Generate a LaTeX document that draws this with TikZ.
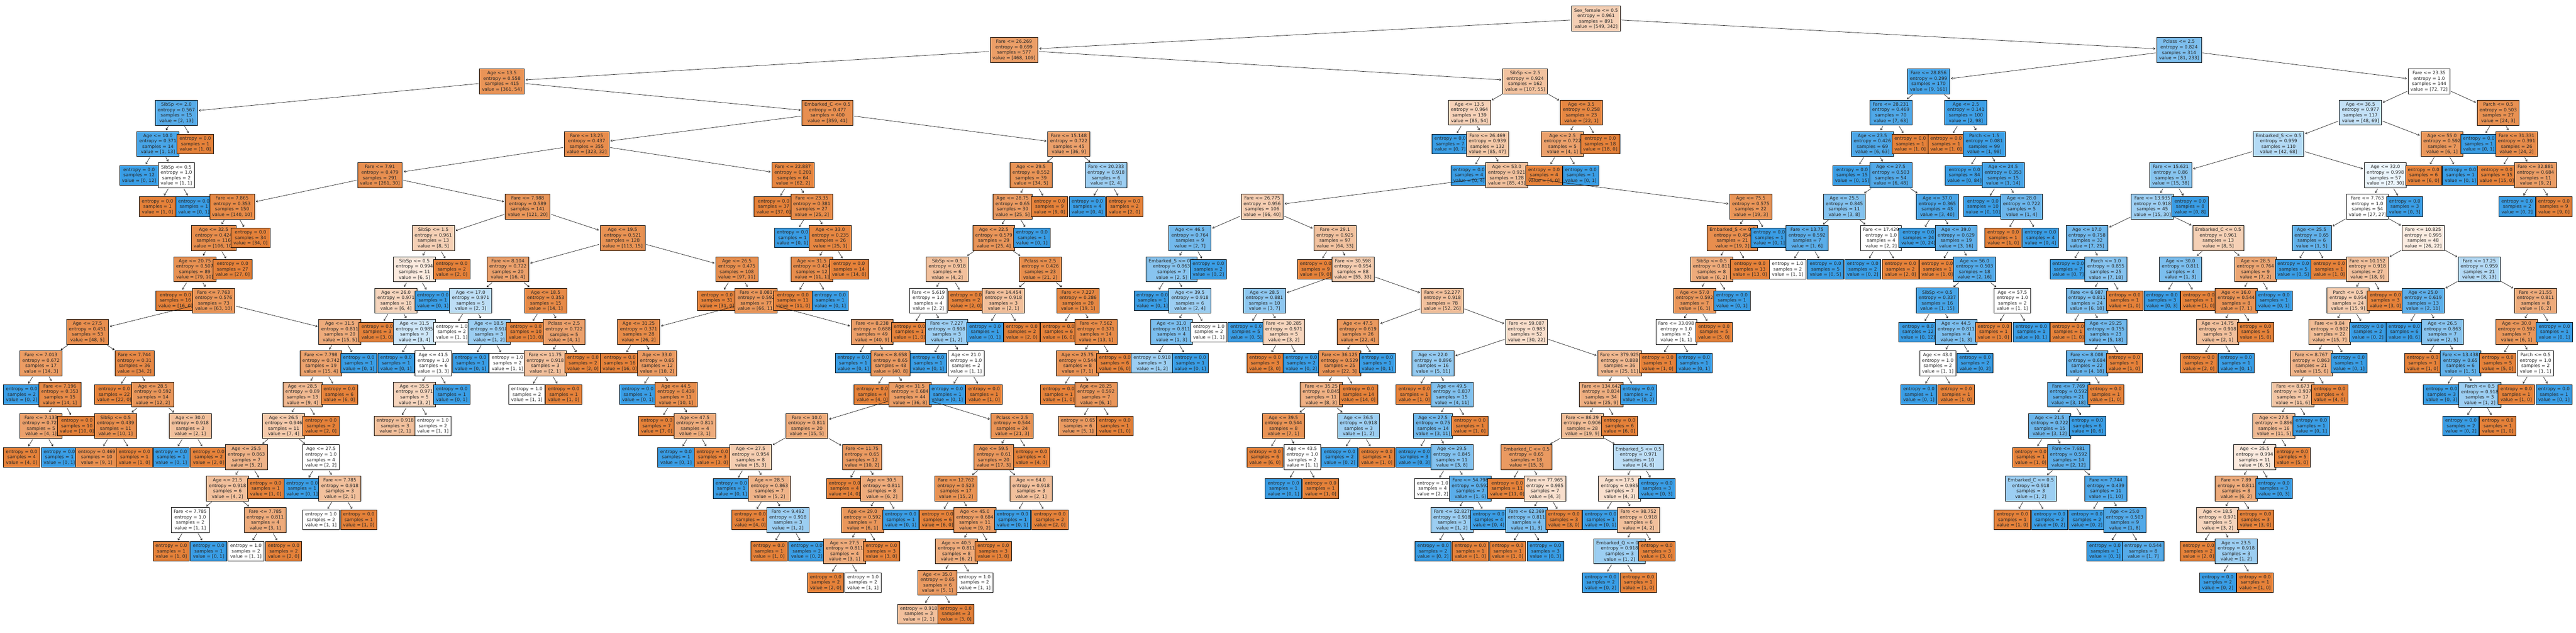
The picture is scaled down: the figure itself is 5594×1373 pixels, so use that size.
\documentclass[tikz,border=0pt]{standalone}
\usepackage{fontspec}
\setmainfont{DejaVu Sans}
\usetikzlibrary{arrows.meta}
\definecolor{cA}{RGB}{229,129,57}
\definecolor{cB}{RGB}{57,157,229}
\begin{document}
\begin{tikzpicture}[x=1pt, y=-1pt, >={Straight Barb[length=3.5pt,width=4.5pt]}, font=\fontsize{9.85}{11.8}\selectfont, line join=round, line cap=round,
  box/.style={draw=black, line width=0.9pt, align=center, inner xsep=5.3pt, inner ysep=5.2pt, text=black!85},
  edge/.style={->, line width=0.8pt, black!90, shorten <=2pt, shorten >=2.5pt}]
\useasboundingbox (0,0) rectangle (5594,1373);
% ten, cha, x, muc, dieu kien, entropy, samples, value
\def\tn#1#2#3#4#5#6#7#8#9{%
  \ifnum#8<#9 \def\hue{cB}\pgfmathsetmacro\pct{100-100*(#8/#9)}%
  \else\def\hue{cA}\pgfmathsetmacro\pct{100-100*(#9/#8)}\fi
  \node[box, fill=\hue!\pct] (#1) at (#3,{40.5+68*#4}) {#5entropy = #6\\samples = #7\\value = [#8, #9]};
  \ifx\relax#2\relax\else\draw[edge] (#2) -- (#1);\fi}
% muc 0-3
\tn{a3466}{}{3466}{0}{Sex\_female <= 0.5\\}{0.961}{891}{549}{342}
\tn{b2202}{a3466}{2202}{1}{Fare <= 26.269\\}{0.699}{577}{468}{109}
\tn{b4732}{a3466}{4732}{1}{Pclass <= 2.5\\}{0.824}{314}{81}{233}
\tn{c1090}{b2202}{1090}{2}{Age <= 13.5\\}{0.558}{415}{361}{54}
\tn{c3312}{b2202}{3312}{2}{SibSp <= 2.5\\}{0.924}{162}{107}{55}
\tn{c4188}{b4732}{4188}{2}{Fare <= 28.856\\}{0.299}{170}{9}{161}
\tn{c5275}{b4732}{5275}{2}{Fare <= 23.35\\}{1.0}{144}{72}{72}
\tn{d383}{c1090}{383}{3}{SibSp <= 2.0\\}{0.567}{15}{2}{13}
\tn{d1797}{c1090}{1797}{3}{Embarked\_C <= 0.5\\}{0.477}{400}{359}{41}
\tn{d3191}{c3312}{3191}{3}{Age <= 13.5\\}{0.964}{139}{85}{54}
\tn{d3434}{c3312}{3434}{3}{Age <= 3.5\\}{0.258}{23}{22}{1}
\tn{d4106}{c4188}{4106}{3}{Fare <= 28.231\\}{0.469}{70}{7}{63}
\tn{d4269}{c4188}{4269}{3}{Age <= 2.5\\}{0.141}{100}{2}{98}
\tn{d5126}{c5275}{5126}{3}{Age <= 36.5\\}{0.977}{117}{48}{69}
\tn{d5425}{c5275}{5425}{3}{Parch <= 0.5\\}{0.503}{27}{24}{3}
% muc 4
\tn{e343}{d383}{343}{4}{Age <= 10.0\\}{0.371}{14}{1}{13}
\tn{e424}{d383}{424}{4}{}{0.0}{1}{1}{0}
\tn{e1274}{d1797}{1274}{4}{Fare <= 13.25\\}{0.437}{355}{323}{32}
\tn{e2321}{d1797}{2321}{4}{Fare <= 15.148\\}{0.722}{45}{36}{9}
\tn{e3149}{d3191}{3149}{4}{}{0.0}{7}{0}{7}
\tn{e3230}{d3191}{3230}{4}{Fare <= 26.469\\}{0.939}{132}{85}{47}
\tn{e3393}{d3434}{3393}{4}{Age <= 2.5\\}{0.722}{5}{4}{1}
\tn{e3475}{d3434}{3475}{4}{}{0.0}{18}{18}{0}
\tn{e4066}{d4106}{4066}{4}{Age <= 23.5\\}{0.426}{69}{6}{63}
\tn{e4148}{d4106}{4148}{4}{}{0.0}{1}{1}{0}
\tn{e4226}{d4269}{4226}{4}{}{0.0}{1}{1}{0}
\tn{e4309}{d4269}{4309}{4}{Parch <= 1.5\\}{0.081}{99}{1}{98}
\tn{e4948}{d5126}{4948}{4}{Embarked\_S <= 0.5\\}{0.959}{110}{42}{68}
\tn{e5303}{d5126}{5303}{4}{Age <= 55.0\\}{0.592}{7}{6}{1}
\tn{e5383}{d5425}{5383}{4}{}{0.0}{1}{0}{1}
\tn{e5465}{d5425}{5465}{4}{Fare <= 31.331\\}{0.391}{26}{24}{2}
% muc 5
\tn{f302}{e343}{302}{5}{}{0.0}{12}{0}{12}
\tn{f383}{e343}{383}{5}{SibSp <= 0.5\\}{1.0}{2}{1}{1}
\tn{f825}{e1274}{825}{5}{Fare <= 7.91\\}{0.479}{291}{261}{30}
\tn{f1722}{e1274}{1722}{5}{Fare <= 22.887\\}{0.201}{64}{62}{2}
\tn{f2239}{e2321}{2239}{5}{Age <= 29.5\\}{0.552}{39}{34}{5}
\tn{f2402}{e2321}{2402}{5}{Fare <= 20.233\\}{0.918}{6}{2}{4}
\tn{f3190}{e3230}{3190}{5}{}{0.0}{4}{0}{4}
\tn{f3272}{e3230}{3272}{5}{Age <= 53.0\\}{0.921}{128}{85}{43}
\tn{f3353}{e3393}{3353}{5}{}{0.0}{4}{4}{0}
\tn{f3433}{e3393}{3433}{5}{}{0.0}{1}{0}{1}
\tn{f4022}{e4066}{4022}{5}{}{0.0}{15}{0}{15}
\tn{f4106}{e4066}{4106}{5}{Age <= 27.5\\}{0.503}{54}{6}{48}
\tn{f4266}{e4309}{4266}{5}{}{0.0}{84}{0}{84}
\tn{f4350}{e4309}{4350}{5}{Age <= 24.5\\}{0.353}{15}{1}{14}
\tn{f4714}{e4948}{4714}{5}{Fare <= 15.621\\}{0.86}{53}{15}{38}
\tn{f5180}{e4948}{5180}{5}{Age <= 32.0\\}{0.998}{57}{27}{30}
\tn{f5263}{e5303}{5263}{5}{}{0.0}{6}{6}{0}
\tn{f5343}{e5303}{5343}{5}{}{0.0}{1}{0}{1}
\tn{f5422}{e5465}{5422}{5}{}{0.0}{15}{15}{0}
\tn{f5506}{e5465}{5506}{5}{Fare <= 32.881\\}{0.684}{11}{9}{2}
% muc 6
\tn{g342}{f383}{342}{6}{}{0.0}{1}{1}{0}
\tn{g421}{f383}{421}{6}{}{0.0}{1}{0}{1}
\tn{g504}{f825}{504}{6}{Fare <= 7.865\\}{0.353}{150}{140}{10}
\tn{g1146}{f825}{1146}{6}{Fare <= 7.988\\}{0.589}{141}{121}{20}
\tn{g1680}{f1722}{1680}{6}{}{0.0}{37}{37}{0}
\tn{g1763}{f1722}{1763}{6}{Fare <= 23.35\\}{0.381}{27}{25}{2}
\tn{g2199}{f2239}{2199}{6}{Age <= 28.75\\}{0.65}{30}{25}{5}
\tn{g2279}{f2239}{2279}{6}{}{0.0}{9}{9}{0}
\tn{g2361}{f2402}{2361}{6}{}{0.0}{4}{0}{4}
\tn{g2442}{f2402}{2442}{6}{}{0.0}{2}{2}{0}
\tn{g2741}{f3272}{2741}{6}{Fare <= 26.775\\}{0.956}{106}{66}{40}
\tn{g3802}{f3272}{3802}{6}{Age <= 75.5\\}{0.575}{22}{19}{3}
\tn{g4005}{f4106}{4005}{6}{Age <= 25.5\\}{0.845}{11}{3}{8}
\tn{g4207}{f4106}{4207}{6}{Age <= 37.0\\}{0.365}{43}{3}{40}
\tn{g4306}{f4350}{4306}{6}{}{0.0}{10}{0}{10}
\tn{g4390}{f4350}{4390}{6}{Age <= 28.0\\}{0.722}{5}{1}{4}
\tn{g4674}{f4714}{4674}{6}{Fare <= 13.935\\}{0.918}{45}{15}{30}
\tn{g4756}{f4714}{4756}{6}{}{0.0}{8}{0}{8}
\tn{g5141}{f5180}{5141}{6}{Fare <= 7.763\\}{1.0}{54}{27}{27}
\tn{g5222}{f5180}{5222}{6}{}{0.0}{3}{0}{3}
\tn{g5466}{f5506}{5466}{6}{}{0.0}{2}{0}{2}
\tn{g5546}{f5506}{5546}{6}{}{0.0}{9}{9}{0}
% muc 7
\tn{h464}{g504}{464}{7}{Age <= 32.5\\}{0.424}{116}{106}{10}
\tn{h544}{g504}{544}{7}{}{0.0}{34}{34}{0}
\tn{h941}{g1146}{941}{7}{SibSp <= 1.5\\}{0.961}{13}{8}{5}
\tn{h1352}{g1146}{1352}{7}{Age <= 19.5\\}{0.521}{128}{113}{15}
\tn{h1721}{g1763}{1721}{7}{}{0.0}{1}{0}{1}
\tn{h1803}{g1763}{1803}{7}{Age <= 33.0\\}{0.235}{26}{25}{1}
\tn{h2158}{g2199}{2158}{7}{Age <= 22.5\\}{0.579}{29}{25}{4}
\tn{h2241}{g2199}{2241}{7}{}{0.0}{1}{0}{1}
\tn{h2584}{g2741}{2584}{7}{Age <= 46.5\\}{0.764}{9}{2}{7}
\tn{h2899}{g2741}{2899}{7}{Fare <= 29.1\\}{0.925}{97}{64}{33}
\tn{h3762}{g3802}{3762}{7}{Embarked\_S <= 0.5\\}{0.454}{21}{19}{2}
\tn{h3842}{g3802}{3842}{7}{}{0.0}{1}{0}{1}
\tn{h3924}{g4005}{3924}{7}{Fare <= 13.75\\}{0.592}{7}{1}{6}
\tn{h4085}{g4005}{4085}{7}{Fare <= 17.429\\}{1.0}{4}{2}{2}
\tn{h4166}{g4207}{4166}{7}{}{0.0}{24}{0}{24}
\tn{h4248}{g4207}{4248}{7}{Age <= 39.0\\}{0.629}{19}{3}{16}
\tn{h4350}{g4390}{4350}{7}{}{0.0}{1}{1}{0}
\tn{h4431}{g4390}{4431}{7}{}{0.0}{4}{0}{4}
\tn{h4532}{g4674}{4532}{7}{Age <= 17.0\\}{0.758}{32}{7}{25}
\tn{h4817}{g4674}{4817}{7}{Embarked\_C <= 0.5\\}{0.961}{13}{8}{5}
\tn{h5020}{g5141}{5020}{7}{Age <= 25.5\\}{0.65}{6}{1}{5}
\tn{h5262}{g5141}{5262}{7}{Fare <= 10.825\\}{0.995}{48}{26}{22}
% muc 8
\tn{i423}{h464}{423}{8}{Age <= 20.75\\}{0.507}{89}{79}{10}
\tn{i505}{h464}{505}{8}{}{0.0}{27}{27}{0}
\tn{i900}{h941}{900}{8}{SibSp <= 0.5\\}{0.994}{11}{6}{5}
\tn{i981}{h941}{981}{8}{}{0.0}{2}{2}{0}
\tn{i1103}{h1352}{1103}{8}{Fare <= 8.104\\}{0.722}{20}{16}{4}
\tn{i1600}{h1352}{1600}{8}{Age <= 26.5\\}{0.475}{108}{97}{11}
\tn{i1763}{h1803}{1763}{8}{Age <= 31.5\\}{0.414}{12}{11}{1}
\tn{i1844}{h1803}{1844}{8}{}{0.0}{14}{14}{0}
\tn{i2057}{h2158}{2057}{8}{SibSp <= 0.5\\}{0.918}{6}{4}{2}
\tn{i2259}{h2158}{2259}{8}{Pclass <= 2.5\\}{0.426}{23}{21}{2}
\tn{i2544}{h2584}{2544}{8}{Embarked\_S <= 0.5\\}{0.863}{7}{2}{5}
\tn{i2624}{h2584}{2624}{8}{}{0.0}{2}{0}{2}
\tn{i2857}{h2899}{2857}{8}{}{0.0}{9}{9}{0}
\tn{i2938}{h2899}{2938}{8}{Fare <= 30.598\\}{0.954}{88}{55}{33}
\tn{i3717}{h3762}{3717}{8}{SibSp <= 0.5\\}{0.811}{8}{6}{2}
\tn{i3800}{h3762}{3800}{8}{}{0.0}{13}{13}{0}
\tn{i3882}{h3924}{3882}{8}{}{1.0}{2}{1}{1}
\tn{i3964}{h3924}{3964}{8}{}{0.0}{5}{0}{5}
\tn{i4045}{h4085}{4045}{8}{}{0.0}{2}{0}{2}
\tn{i4127}{h4085}{4127}{8}{}{0.0}{2}{2}{0}
\tn{i4207}{h4248}{4207}{8}{}{0.0}{1}{1}{0}
\tn{i4288}{h4248}{4288}{8}{Age <= 56.0\\}{0.503}{18}{2}{16}
\tn{i4491}{h4532}{4491}{8}{}{0.0}{7}{0}{7}
\tn{i4573}{h4532}{4573}{8}{Parch <= 1.0\\}{0.855}{25}{7}{18}
\tn{i4735}{h4817}{4735}{8}{Age <= 30.0\\}{0.811}{4}{1}{3}
\tn{i4898}{h4817}{4898}{8}{Age <= 28.5\\}{0.764}{9}{7}{2}
\tn{i4980}{h5020}{4980}{8}{}{0.0}{5}{0}{5}
\tn{i5058}{h5020}{5058}{8}{}{0.0}{1}{1}{0}
\tn{i5141}{h5262}{5141}{8}{Fare <= 10.152\\}{0.918}{27}{18}{9}
\tn{i5384}{h5262}{5384}{8}{Fare <= 17.25\\}{0.959}{21}{8}{13}
% muc 9
\tn{j381}{i423}{381}{9}{}{0.0}{16}{16}{0}
\tn{j464}{i423}{464}{9}{Fare <= 7.763\\}{0.576}{73}{63}{10}
\tn{j860}{i900}{860}{9}{Age <= 26.0\\}{0.971}{10}{6}{4}
\tn{j940}{i900}{940}{9}{}{0.0}{1}{0}{1}
\tn{j1022}{i1103}{1022}{9}{Age <= 17.0\\}{0.971}{5}{2}{3}
\tn{j1185}{i1103}{1185}{9}{Age <= 18.5\\}{0.353}{15}{14}{1}
\tn{j1557}{i1600}{1557}{9}{}{0.0}{31}{31}{0}
\tn{j1642}{i1600}{1642}{9}{Fare <= 8.081\\}{0.592}{77}{66}{11}
\tn{j1722}{i1763}{1722}{9}{}{0.0}{11}{11}{0}
\tn{j1803}{i1763}{1803}{9}{}{0.0}{1}{0}{1}
\tn{j2016}{i2057}{2016}{9}{Fare <= 5.619\\}{1.0}{4}{2}{2}
\tn{j2098}{i2057}{2098}{9}{}{0.0}{2}{2}{0}
\tn{j2179}{i2259}{2179}{9}{Fare <= 14.454\\}{0.918}{3}{2}{1}
\tn{j2341}{i2259}{2341}{9}{Fare <= 7.227\\}{0.286}{20}{19}{1}
\tn{j2502}{i2544}{2502}{9}{}{0.0}{1}{0}{1}
\tn{j2584}{i2544}{2584}{9}{Age <= 39.5\\}{0.918}{6}{2}{4}
\tn{j2746}{i2938}{2746}{9}{Age <= 28.5\\}{0.881}{10}{3}{7}
\tn{j3132}{i2938}{3132}{9}{Fare <= 52.277\\}{0.918}{78}{52}{26}
\tn{j3680}{i3717}{3680}{9}{Age <= 57.0\\}{0.592}{7}{6}{1}
\tn{j3761}{i3717}{3761}{9}{}{0.0}{1}{0}{1}
\tn{j4207}{i4288}{4207}{9}{SibSp <= 0.5\\}{0.337}{16}{1}{15}
\tn{j4370}{i4288}{4370}{9}{Age <= 57.5\\}{1.0}{2}{1}{1}
\tn{j4532}{i4573}{4532}{9}{Fare <= 6.987\\}{0.811}{24}{6}{18}
\tn{j4614}{i4573}{4614}{9}{}{0.0}{1}{1}{0}
\tn{j4695}{i4735}{4695}{9}{}{0.0}{3}{0}{3}
\tn{j4775}{i4735}{4775}{9}{}{0.0}{1}{1}{0}
\tn{j4856}{i4898}{4856}{9}{Age <= 16.0\\}{0.544}{8}{7}{1}
\tn{j4938}{i4898}{4938}{9}{}{0.0}{1}{0}{1}
\tn{j5099}{i5141}{5099}{9}{Parch <= 0.5\\}{0.954}{24}{15}{9}
\tn{j5180}{i5141}{5180}{9}{}{0.0}{3}{3}{0}
\tn{j5262}{i5384}{5262}{9}{Age <= 25.0\\}{0.619}{13}{2}{11}
\tn{j5506}{i5384}{5506}{9}{Fare <= 21.55\\}{0.811}{8}{6}{2}
% muc 10
\tn{k190}{j464}{190}{10}{Age <= 27.5\\}{0.451}{53}{48}{5}
\tn{k738}{j464}{738}{10}{Age <= 31.5\\}{0.811}{20}{15}{5}
\tn{k819}{j860}{819}{10}{}{0.0}{3}{3}{0}
\tn{k900}{j860}{900}{10}{Age <= 31.5\\}{0.985}{7}{3}{4}
\tn{k981}{j1022}{981}{10}{}{1.0}{2}{1}{1}
\tn{k1062}{j1022}{1062}{10}{Age <= 18.5\\}{0.918}{3}{1}{2}
\tn{k1142}{j1185}{1142}{10}{}{0.0}{10}{10}{0}
\tn{k1225}{j1185}{1225}{10}{Pclass <= 2.5\\}{0.722}{5}{4}{1}
\tn{k1387}{j1642}{1387}{10}{Age <= 31.25\\}{0.371}{28}{26}{2}
\tn{k1894}{j1642}{1894}{10}{Fare <= 8.238\\}{0.688}{49}{40}{9}
\tn{k1975}{j2016}{1975}{10}{}{0.0}{1}{1}{0}
\tn{k2056}{j2016}{2056}{10}{Fare <= 7.227\\}{0.918}{3}{1}{2}
\tn{k2139}{j2179}{2139}{10}{}{0.0}{1}{0}{1}
\tn{k2219}{j2179}{2219}{10}{}{0.0}{2}{2}{0}
\tn{k2299}{j2341}{2299}{10}{}{0.0}{6}{6}{0}
\tn{k2380}{j2341}{2380}{10}{Fare <= 7.562\\}{0.371}{14}{13}{1}
\tn{k2544}{j2584}{2544}{10}{Age <= 31.0\\}{0.811}{4}{1}{3}
\tn{k2625}{j2584}{2625}{10}{}{1.0}{2}{1}{1}
\tn{k2706}{j2746}{2706}{10}{}{0.0}{5}{0}{5}
\tn{k2788}{j2746}{2788}{10}{Fare <= 30.285\\}{0.971}{5}{3}{2}
\tn{k2949}{j3132}{2949}{10}{Age <= 47.5\\}{0.619}{26}{22}{4}
\tn{k3315}{j3132}{3315}{10}{Fare <= 59.087\\}{0.983}{52}{30}{22}
\tn{k3640}{j3680}{3640}{10}{Fare <= 33.098\\}{1.0}{2}{1}{1}
\tn{k3722}{j3680}{3722}{10}{}{0.0}{5}{5}{0}
\tn{k4165}{j4207}{4165}{10}{}{0.0}{12}{0}{12}
\tn{k4248}{j4207}{4248}{10}{Age <= 44.5\\}{0.811}{4}{1}{3}
\tn{k4329}{j4370}{4329}{10}{}{0.0}{1}{1}{0}
\tn{k4411}{j4370}{4411}{10}{}{0.0}{1}{0}{1}
\tn{k4491}{j4532}{4491}{10}{}{0.0}{1}{1}{0}
\tn{k4573}{j4532}{4573}{10}{Age <= 29.25\\}{0.755}{23}{5}{18}
\tn{k4816}{j4856}{4816}{10}{Age <= 14.75\\}{0.918}{3}{2}{1}
\tn{k4898}{j4856}{4898}{10}{}{0.0}{5}{5}{0}
\tn{k5059}{j5099}{5059}{10}{Fare <= 9.84\\}{0.902}{22}{15}{7}
\tn{k5142}{j5099}{5142}{10}{}{0.0}{2}{0}{2}
\tn{k5221}{j5262}{5221}{10}{}{0.0}{6}{0}{6}
\tn{k5304}{j5262}{5304}{10}{Age <= 26.5\\}{0.863}{7}{2}{5}
\tn{k5465}{j5506}{5465}{10}{Age <= 30.0\\}{0.592}{7}{6}{1}
\tn{k5547}{j5506}{5547}{10}{}{0.0}{1}{0}{1}
% muc 11
\tn{l89}{k190}{89}{11}{Fare <= 7.013\\}{0.672}{17}{14}{3}
\tn{l292}{k190}{292}{11}{Fare <= 7.744\\}{0.31}{36}{34}{2}
\tn{l697}{k738}{697}{11}{Fare <= 7.798\\}{0.742}{19}{15}{4}
\tn{l779}{k738}{779}{11}{}{0.0}{1}{0}{1}
\tn{l860}{k900}{860}{11}{}{0.0}{1}{0}{1}
\tn{l941}{k900}{941}{11}{Age <= 41.5\\}{1.0}{6}{3}{3}
\tn{l1022}{k1062}{1022}{11}{}{0.0}{1}{0}{1}
\tn{l1102}{k1062}{1102}{11}{}{1.0}{2}{1}{1}
\tn{l1184}{k1225}{1184}{11}{Fare <= 11.75\\}{0.918}{3}{2}{1}
\tn{l1266}{k1225}{1266}{11}{}{0.0}{2}{2}{0}
\tn{l1346}{k1387}{1346}{11}{}{0.0}{16}{16}{0}
\tn{l1427}{k1387}{1427}{11}{Age <= 33.0\\}{0.65}{12}{10}{2}
\tn{l1853}{k1894}{1853}{11}{}{0.0}{1}{0}{1}
\tn{l1934}{k1894}{1934}{11}{Fare <= 8.658\\}{0.65}{48}{40}{8}
\tn{l2016}{k2056}{2016}{11}{}{0.0}{1}{0}{1}
\tn{l2098}{k2056}{2098}{11}{Age <= 21.0\\}{1.0}{2}{1}{1}
\tn{l2340}{k2380}{2340}{11}{Age <= 25.75\\}{0.544}{8}{7}{1}
\tn{l2421}{k2380}{2421}{11}{}{0.0}{6}{6}{0}
\tn{l2502}{k2544}{2502}{11}{}{0.918}{3}{1}{2}
\tn{l2585}{k2544}{2585}{11}{}{0.0}{1}{0}{1}
\tn{l2747}{k2788}{2747}{11}{}{0.0}{3}{3}{0}
\tn{l2826}{k2788}{2826}{11}{}{0.0}{2}{0}{2}
\tn{l2909}{k2949}{2909}{11}{Fare <= 36.125\\}{0.529}{25}{22}{3}
\tn{l2991}{k2949}{2991}{11}{}{0.0}{1}{0}{1}
\tn{l3112}{k3315}{3112}{11}{Age <= 22.0\\}{0.896}{16}{5}{11}
\tn{l3517}{k3315}{3517}{11}{Fare <= 379.925\\}{0.888}{36}{25}{11}
\tn{l3600}{k3640}{3600}{11}{}{0.0}{1}{1}{0}
\tn{l3679}{k3640}{3679}{11}{}{0.0}{1}{0}{1}
\tn{l4208}{k4248}{4208}{11}{Age <= 43.0\\}{1.0}{2}{1}{1}
\tn{l4289}{k4248}{4289}{11}{}{0.0}{2}{0}{2}
\tn{l4532}{k4573}{4532}{11}{Fare <= 8.008\\}{0.684}{22}{4}{18}
\tn{l4613}{k4573}{4613}{11}{}{0.0}{1}{1}{0}
\tn{l4775}{k4816}{4775}{11}{}{0.0}{2}{2}{0}
\tn{l4856}{k4816}{4856}{11}{}{0.0}{1}{0}{1}
\tn{l5019}{k5059}{5019}{11}{Fare <= 8.767\\}{0.863}{21}{15}{6}
\tn{l5101}{k5059}{5101}{11}{}{0.0}{1}{0}{1}
\tn{l5261}{k5304}{5261}{11}{}{0.0}{1}{1}{0}
\tn{l5343}{k5304}{5343}{11}{Fare <= 13.438\\}{0.65}{6}{1}{5}
\tn{l5424}{k5465}{5424}{11}{}{0.0}{5}{5}{0}
\tn{l5506}{k5465}{5506}{11}{Parch <= 0.5\\}{1.0}{2}{1}{1}
% muc 12
\tn{m47}{l89}{47}{12}{}{0.0}{2}{0}{2}
\tn{m130}{l89}{130}{12}{Fare <= 7.196\\}{0.353}{15}{14}{1}
\tn{m248}{l292}{248}{12}{}{0.0}{22}{22}{0}
\tn{m332}{l292}{332}{12}{Age <= 28.5\\}{0.592}{14}{12}{2}
\tn{m657}{l697}{657}{12}{Age <= 28.5\\}{0.89}{13}{9}{4}
\tn{m737}{l697}{737}{12}{}{0.0}{6}{6}{0}
\tn{m900}{l941}{900}{12}{Age <= 35.5\\}{0.971}{5}{3}{2}
\tn{m981}{l941}{981}{12}{}{0.0}{1}{0}{1}
\tn{m1144}{l1184}{1144}{12}{}{1.0}{2}{1}{1}
\tn{m1224}{l1184}{1224}{12}{}{0.0}{1}{1}{0}
\tn{m1385}{l1427}{1385}{12}{}{0.0}{1}{0}{1}
\tn{m1468}{l1427}{1468}{12}{Age <= 44.5\\}{0.439}{11}{10}{1}
\tn{m1894}{l1934}{1894}{12}{}{0.0}{4}{4}{0}
\tn{m1976}{l1934}{1976}{12}{Age <= 31.5\\}{0.684}{44}{36}{8}
\tn{m2057}{l2098}{2057}{12}{}{0.0}{1}{0}{1}
\tn{m2137}{l2098}{2137}{12}{}{0.0}{1}{1}{0}
\tn{m2299}{l2340}{2299}{12}{}{0.0}{1}{1}{0}
\tn{m2380}{l2340}{2380}{12}{Age <= 28.25\\}{0.592}{7}{6}{1}
\tn{m2869}{l2909}{2869}{12}{Fare <= 35.25\\}{0.845}{11}{8}{3}
\tn{m2950}{l2909}{2950}{12}{}{0.0}{14}{14}{0}
\tn{m3071}{l3112}{3071}{12}{}{0.0}{1}{1}{0}
\tn{m3153}{l3112}{3153}{12}{Age <= 49.5\\}{0.837}{15}{4}{11}
\tn{m3477}{l3517}{3477}{12}{Fare <= 134.642\\}{0.834}{34}{25}{9}
\tn{m3558}{l3517}{3558}{12}{}{0.0}{2}{0}{2}
\tn{m4167}{l4208}{4167}{12}{}{0.0}{1}{0}{1}
\tn{m4248}{l4208}{4248}{12}{}{0.0}{1}{1}{0}
\tn{m4492}{l4532}{4492}{12}{Fare <= 7.769\\}{0.592}{21}{3}{18}
\tn{m4573}{l4532}{4573}{12}{}{0.0}{1}{1}{0}
\tn{m4979}{l5019}{4979}{12}{Fare <= 8.673\\}{0.937}{17}{11}{6}
\tn{m5059}{l5019}{5059}{12}{}{0.0}{4}{4}{0}
\tn{m5302}{l5343}{5302}{12}{}{0.0}{3}{0}{3}
\tn{m5385}{l5343}{5385}{12}{Parch <= 0.5\\}{0.918}{3}{1}{2}
\tn{m5464}{l5506}{5464}{12}{}{0.0}{1}{1}{0}
\tn{m5546}{l5506}{5546}{12}{}{0.0}{1}{0}{1}
% muc 13
\tn{n89}{m130}{89}{13}{Fare <= 7.133\\}{0.722}{5}{4}{1}
\tn{n167}{m130}{167}{13}{}{0.0}{10}{10}{0}
\tn{n251}{m332}{251}{13}{SibSp <= 0.5\\}{0.439}{11}{10}{1}
\tn{n413}{m332}{413}{13}{Age <= 30.0\\}{0.918}{3}{2}{1}
\tn{n616}{m657}{616}{13}{Age <= 26.5\\}{0.946}{11}{7}{4}
\tn{n697}{m657}{697}{13}{}{0.0}{2}{2}{0}
\tn{n858}{m900}{858}{13}{}{0.918}{3}{2}{1}
\tn{n940}{m900}{940}{13}{}{1.0}{2}{1}{1}
\tn{n1426}{m1468}{1426}{13}{}{0.0}{7}{7}{0}
\tn{n1509}{m1468}{1509}{13}{Age <= 47.5\\}{0.811}{4}{3}{1}
\tn{n1752}{m1976}{1752}{13}{Fare <= 10.0\\}{0.811}{20}{15}{5}
\tn{n2198}{m1976}{2198}{13}{Pclass <= 2.5\\}{0.544}{24}{21}{3}
\tn{n2341}{m2380}{2341}{13}{}{0.65}{6}{5}{1}
\tn{n2421}{m2380}{2421}{13}{}{0.0}{1}{1}{0}
\tn{n2787}{m2869}{2787}{13}{Age <= 39.5\\}{0.544}{8}{7}{1}
\tn{n2950}{m2869}{2950}{13}{Age <= 36.5\\}{0.918}{3}{1}{2}
\tn{n3112}{m3153}{3112}{13}{Age <= 27.5\\}{0.75}{14}{3}{11}
\tn{n3192}{m3153}{3192}{13}{}{0.0}{1}{1}{0}
\tn{n3436}{m3477}{3436}{13}{Fare <= 86.29\\}{0.906}{28}{19}{9}
\tn{n3517}{m3477}{3517}{13}{}{0.0}{6}{6}{0}
\tn{n4451}{m4492}{4451}{13}{Age <= 21.5\\}{0.722}{15}{3}{12}
\tn{n4533}{m4492}{4533}{13}{}{0.0}{6}{0}{6}
\tn{n4938}{m4979}{4938}{13}{Age <= 27.5\\}{0.896}{16}{11}{5}
\tn{n5019}{m4979}{5019}{13}{}{0.0}{1}{0}{1}
\tn{n5344}{m5385}{5344}{13}{}{0.0}{2}{0}{2}
\tn{n5424}{m5385}{5424}{13}{}{0.0}{1}{1}{0}
% muc 14
\tn{o47}{n89}{47}{14}{}{0.0}{4}{4}{0}
\tn{o129}{n89}{129}{14}{}{0.0}{1}{0}{1}
\tn{o210}{n251}{210}{14}{}{0.469}{10}{9}{1}
\tn{o292}{n251}{292}{14}{}{0.0}{1}{1}{0}
\tn{o372}{n413}{372}{14}{}{0.0}{1}{0}{1}
\tn{o453}{n413}{453}{14}{}{0.0}{2}{2}{0}
\tn{o535}{n616}{535}{14}{Age <= 25.5\\}{0.863}{7}{5}{2}
\tn{o697}{n616}{697}{14}{Age <= 27.5\\}{1.0}{4}{2}{2}
\tn{o1468}{n1509}{1468}{14}{}{0.0}{1}{0}{1}
\tn{o1547}{n1509}{1547}{14}{}{0.0}{3}{3}{0}
\tn{o1630}{n1752}{1630}{14}{Age <= 27.5\\}{0.954}{8}{5}{3}
\tn{o1872}{n1752}{1872}{14}{Fare <= 11.75\\}{0.65}{12}{10}{2}
\tn{o2158}{n2198}{2158}{14}{Age <= 59.5\\}{0.61}{20}{17}{3}
\tn{o2240}{n2198}{2240}{14}{}{0.0}{4}{4}{0}
\tn{o2747}{n2787}{2747}{14}{}{0.0}{6}{6}{0}
\tn{o2828}{n2787}{2828}{14}{Age <= 43.5\\}{1.0}{2}{1}{1}
\tn{o2909}{n2950}{2909}{14}{}{0.0}{2}{0}{2}
\tn{o2990}{n2950}{2990}{14}{}{0.0}{1}{1}{0}
\tn{o3071}{n3112}{3071}{14}{}{0.0}{3}{0}{3}
\tn{o3153}{n3112}{3153}{14}{Age <= 29.5\\}{0.845}{11}{3}{8}
\tn{o3315}{n3436}{3315}{14}{Embarked\_C <= 0.5\\}{0.65}{18}{15}{3}
\tn{o3558}{n3436}{3558}{14}{Embarked\_S <= 0.5\\}{0.971}{10}{4}{6}
\tn{o4410}{n4451}{4410}{14}{}{0.0}{1}{1}{0}
\tn{o4492}{n4451}{4492}{14}{Fare <= 7.681\\}{0.592}{14}{2}{12}
\tn{o4896}{n4938}{4896}{14}{Age <= 25.5\\}{0.994}{11}{6}{5}
\tn{o4978}{n4938}{4978}{14}{}{0.0}{5}{5}{0}
% muc 15
\tn{p494}{o535}{494}{15}{Age <= 21.5\\}{0.918}{6}{4}{2}
\tn{p577}{o535}{577}{15}{}{0.0}{1}{1}{0}
\tn{p656}{o697}{656}{15}{}{0.0}{1}{0}{1}
\tn{p738}{o697}{738}{15}{Fare <= 7.785\\}{0.918}{3}{2}{1}
\tn{p1588}{o1630}{1588}{15}{}{0.0}{1}{0}{1}
\tn{p1671}{o1630}{1671}{15}{Age <= 28.5\\}{0.863}{7}{5}{2}
\tn{p1834}{o1872}{1834}{15}{}{0.0}{4}{4}{0}
\tn{p1915}{o1872}{1915}{15}{Age <= 30.5\\}{0.811}{8}{6}{2}
\tn{p2076}{o2158}{2076}{15}{Fare <= 12.762\\}{0.523}{17}{15}{2}
\tn{p2239}{o2158}{2239}{15}{Age <= 64.0\\}{0.918}{3}{2}{1}
\tn{p2787}{o2828}{2787}{15}{}{0.0}{1}{0}{1}
\tn{p2868}{o2828}{2868}{15}{}{0.0}{1}{1}{0}
\tn{p3111}{o3153}{3111}{15}{}{1.0}{4}{2}{2}
\tn{p3193}{o3153}{3193}{15}{Fare <= 54.798\\}{0.592}{7}{1}{6}
\tn{p3273}{o3315}{3273}{15}{}{0.0}{11}{11}{0}
\tn{p3355}{o3315}{3355}{15}{Fare <= 77.965\\}{0.985}{7}{4}{3}
\tn{p3517}{o3558}{3517}{15}{Age <= 17.5\\}{0.985}{7}{4}{3}
\tn{p3598}{o3558}{3598}{15}{}{0.0}{3}{0}{3}
\tn{p4410}{o4492}{4410}{15}{Embarked\_C <= 0.5\\}{0.918}{3}{1}{2}
\tn{p4573}{o4492}{4573}{15}{Fare <= 7.744\\}{0.439}{11}{1}{10}
\tn{p4856}{o4896}{4856}{15}{Fare <= 7.89\\}{0.811}{8}{6}{2}
\tn{p4938}{o4896}{4938}{15}{}{0.0}{3}{0}{3}
% muc 16
\tn{q413}{p494}{413}{16}{Fare <= 7.785\\}{1.0}{2}{1}{1}
\tn{q576}{p494}{576}{16}{Fare <= 7.785\\}{0.811}{4}{3}{1}
\tn{q697}{p738}{697}{16}{}{1.0}{2}{1}{1}
\tn{q779}{p738}{779}{16}{}{0.0}{1}{1}{0}
\tn{q1629}{p1671}{1629}{16}{}{0.0}{4}{4}{0}
\tn{q1711}{p1671}{1711}{16}{Fare <= 9.492\\}{0.918}{3}{1}{2}
\tn{q1873}{p1915}{1873}{16}{Age <= 29.0\\}{0.592}{7}{6}{1}
\tn{q1956}{p1915}{1956}{16}{}{0.0}{1}{0}{1}
\tn{q2036}{p2076}{2036}{16}{}{0.0}{6}{6}{0}
\tn{q2117}{p2076}{2117}{16}{Age <= 45.0\\}{0.684}{11}{9}{2}
\tn{q2199}{p2239}{2199}{16}{}{0.0}{1}{0}{1}
\tn{q2280}{p2239}{2280}{16}{}{0.0}{2}{2}{0}
\tn{q3153}{p3193}{3153}{16}{Fare <= 52.827\\}{0.918}{3}{1}{2}
\tn{q3233}{p3193}{3233}{16}{}{0.0}{4}{0}{4}
\tn{q3315}{p3355}{3315}{16}{Fare <= 62.369\\}{0.811}{4}{1}{3}
\tn{q3396}{p3355}{3396}{16}{}{0.0}{3}{3}{0}
\tn{q3476}{p3517}{3476}{16}{}{0.0}{1}{0}{1}
\tn{q3558}{p3517}{3558}{16}{Fare <= 98.752\\}{0.918}{6}{4}{2}
\tn{q4370}{p4410}{4370}{16}{}{0.0}{1}{1}{0}
\tn{q4451}{p4410}{4451}{16}{}{0.0}{2}{0}{2}
\tn{q4532}{p4573}{4532}{16}{}{0.0}{2}{0}{2}
\tn{q4614}{p4573}{4614}{16}{Age <= 25.0\\}{0.503}{9}{1}{8}
\tn{q4816}{p4856}{4816}{16}{Age <= 18.5\\}{0.971}{5}{3}{2}
\tn{q4898}{p4856}{4898}{16}{}{0.0}{3}{3}{0}
% muc 17-19
\tn{r372}{q413}{372}{17}{}{0.0}{1}{1}{0}
\tn{r453}{q413}{453}{17}{}{0.0}{1}{0}{1}
\tn{r534}{q576}{534}{17}{}{1.0}{2}{1}{1}
\tn{r616}{q576}{616}{17}{}{0.0}{2}{2}{0}
\tn{r1670}{q1711}{1670}{17}{}{0.0}{1}{1}{0}
\tn{r1752}{q1711}{1752}{17}{}{0.0}{2}{0}{2}
\tn{r1834}{q1873}{1834}{17}{Age <= 27.5\\}{0.811}{4}{3}{1}
\tn{r1914}{q1873}{1914}{17}{}{0.0}{3}{3}{0}
\tn{r2077}{q2117}{2077}{17}{Age <= 40.5\\}{0.811}{8}{6}{2}
\tn{r2157}{q2117}{2157}{17}{}{0.0}{3}{3}{0}
\tn{r3112}{q3153}{3112}{17}{}{0.0}{2}{0}{2}
\tn{r3193}{q3153}{3193}{17}{}{0.0}{1}{1}{0}
\tn{r3274}{q3315}{3274}{17}{}{0.0}{1}{1}{0}
\tn{r3356}{q3315}{3356}{17}{}{0.0}{3}{0}{3}
\tn{r3517}{q3558}{3517}{17}{Embarked\_Q <= 0.5\\}{0.918}{3}{1}{2}
\tn{r3598}{q3558}{3598}{17}{}{0.0}{3}{3}{0}
\tn{r4571}{q4614}{4571}{17}{}{0.0}{1}{0}{1}
\tn{r4654}{q4614}{4654}{17}{}{0.544}{8}{1}{7}
\tn{r4774}{q4816}{4774}{17}{}{0.0}{2}{2}{0}
\tn{r4856}{q4816}{4856}{17}{Age <= 23.5\\}{0.918}{3}{1}{2}
\tn{s1793}{r1834}{1793}{18}{}{0.0}{2}{2}{0}
\tn{s1874}{r1834}{1874}{18}{}{1.0}{2}{1}{1}
\tn{s2036}{r2077}{2036}{18}{Age <= 35.0\\}{0.65}{6}{5}{1}
\tn{s2117}{r2077}{2117}{18}{}{1.0}{2}{1}{1}
\tn{s3476}{r3517}{3476}{18}{}{0.0}{2}{0}{2}
\tn{s3558}{r3517}{3558}{18}{}{0.0}{1}{1}{0}
\tn{s4816}{r4856}{4816}{18}{}{0.0}{2}{0}{2}
\tn{s4897}{r4856}{4897}{18}{}{0.0}{1}{1}{0}
\tn{t1995}{s2036}{1995}{19}{}{0.918}{3}{2}{1}
\tn{t2076}{s2036}{2076}{19}{}{0.0}{3}{3}{0}
\end{tikzpicture}
\end{document}
